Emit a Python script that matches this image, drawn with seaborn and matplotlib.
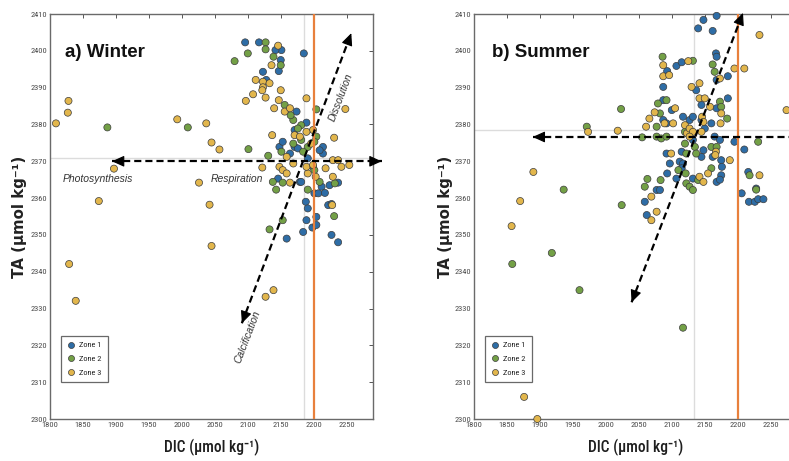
import numpy as np
import pandas as pd
import matplotlib
matplotlib.use("Agg")
import matplotlib.pyplot as plt
from matplotlib import font_manager as fm
import seaborn as sns

# ---- Winter observations (DIC, TA in µmol kg-1) ----
winter_z1_dic = [2096, 2117, 2151, 2142, 2185, 2150, 2123, 2147, 2128, 2174,
                 2189, 2171, 2171, 2176, 2148, 2153, 2164, 2214, 2214, 2209,
                 2179, 2191, 2199, 2237, 2212, 2224, 2201, 2207, 2188, 2191,
                 2222, 2189, 2204, 2159, 2184, 2198, 2227, 2237, 2146, 2181,
                 2217, 2227, 2204]
winter_z1_ta = [2402.3, 2402.3, 2400.2, 2400.2, 2399.3, 2397.5, 2394.3, 2394.5, 2392.1, 2383.5,
                2380.5, 2378.5, 2373.9, 2373.5, 2373.9, 2375.3, 2372.1, 2373.9, 2372.1, 2373.0,
                2364.4, 2370.8, 2368.5, 2364.2, 2363.1, 2363.5, 2361.3, 2361.3, 2359.0, 2357.2,
                2358.1, 2354.0, 2354.9, 2349.0, 2350.8, 2352.0, 2350.0, 2348.0, 2365.3, 2364.4,
                2361.4, 2358.4, 2352.7]

winter_z2_dic = [1887, 2009, 2101, 2080, 2100, 2127, 2127, 2139, 2150, 2156,
                 2169, 2165, 2204, 2181, 2176, 2204, 2201, 2191, 2181, 2169,
                 2184, 2151, 2131, 2153, 2138, 2143, 2201, 2232, 2209, 2191,
                 2231, 2153, 2133]
winter_z2_ta = [2379.2, 2379.2, 2373.3, 2397.2, 2399.3, 2402.3, 2400.4, 2398.4, 2396.1, 2385.3,
                2381.2, 2382.5, 2384.1, 2379.8, 2378.9, 2376.7, 2375.3, 2373.9, 2375.8, 2374.8,
                2372.6, 2372.6, 2371.5, 2364.2, 2364.4, 2362.3, 2367.6, 2364.0, 2364.4, 2362.3,
                2355.1, 2354.0, 2351.5]

winter_z3_dic = [1809, 1828, 1827, 1897, 1874, 1993, 2037, 2045, 2057, 2026,
                 2042, 1829, 1839, 2045, 2127, 2139, 2146, 2136, 2112, 2123,
                 2133, 2123, 2122, 2108, 2097, 2127, 2150, 2147, 2189, 2140,
                 2156, 2164, 2137, 2248, 2171, 2199, 2189, 2196, 2179, 2159,
                 2231, 2122, 2148, 2153, 2159, 2164, 2169, 2191, 2189, 2203,
                 2229, 2237, 2242, 2254, 2218, 2229, 2228, 2199]
winter_z3_ta = [2380.3, 2386.4, 2383.2, 2368.0, 2359.2, 2381.4, 2380.3, 2375.1, 2373.2, 2364.2,
                2358.2, 2342.1, 2332.1, 2347.0, 2333.2, 2335.0, 2401.4, 2396.1, 2392.1, 2391.6,
                2391.2, 2390.1, 2389.3, 2388.2, 2386.4, 2387.3, 2389.3, 2386.6, 2387.1, 2384.4,
                2383.5, 2384.4, 2377.1, 2384.2, 2377.1, 2378.5, 2378.0, 2374.8, 2376.7, 2371.2,
                2376.4, 2368.3, 2368.5, 2367.6, 2366.7, 2364.2, 2369.4, 2366.7, 2368.5, 2365.8,
                2370.3, 2370.3, 2368.5, 2369.0, 2368.1, 2365.8, 2358.1, 2369.0]

# ---- Summer observations ----
summer_z1_dic = [2168, 2148, 2140, 2162, 2167, 2168, 2107, 2115, 2093, 2087,
                 2168, 2185, 2137, 2185, 2145, 2168, 2087, 2100, 2087, 2092,
                 2117, 2127, 2132, 2145, 2160, 2150, 2165, 2173, 2195, 2210,
                 2092, 2097, 2112, 2117, 2145, 2148, 2132, 2115, 2115, 2093,
                 2107, 2162, 2175, 2176, 2175, 2168, 2173, 2132, 2206, 2216,
                 2217, 2226, 2231, 2239, 2228, 2059, 2077, 2082, 2062]
summer_z1_ta = [2409.5, 2408.4, 2406.1, 2405.4, 2399.3, 2398.4, 2395.9, 2396.9, 2394.5, 2390.2,
                2392.1, 2393.1, 2389.3, 2387.1, 2385.3, 2384.4, 2386.6, 2383.9, 2381.2, 2380.3,
                2382.1, 2381.2, 2382.1, 2381.2, 2380.3, 2378.9, 2376.7, 2375.8, 2375.3, 2373.2,
                2372.1, 2369.4, 2369.9, 2369.4, 2371.2, 2373.0, 2375.8, 2372.6, 2368.1, 2366.7,
                2365.3, 2371.2, 2370.3, 2368.5, 2366.2, 2364.4, 2365.0, 2365.3, 2361.3, 2367.1,
                2359.0, 2359.0, 2359.7, 2359.7, 2362.6, 2359.0, 2362.2, 2362.2, 2355.4]

summer_z2_dic = [2023, 1971, 1936, 2024, 2086, 2132, 2162, 2165, 2173, 2175,
                 2184, 2092, 2079, 2082, 2077, 2055, 2077, 2084, 2092, 2120,
                 2120, 2122, 2135, 2137, 2160, 2168, 2231, 2218, 2228, 2063,
                 2083, 2121, 2122, 2127, 2132, 2140, 2110, 2160, 1858, 1918,
                 1960, 2117, 2059]
summer_z2_ta = [2384.2, 2379.4, 2362.3, 2358.1, 2398.4, 2397.3, 2396.3, 2394.3, 2386.2, 2384.8,
                2381.6, 2386.6, 2385.7, 2383.0, 2379.4, 2376.5, 2376.7, 2376.2, 2376.7, 2378.0,
                2374.8, 2372.1, 2373.9, 2372.1, 2373.9, 2373.9, 2375.3, 2366.2, 2362.3, 2365.2,
                2364.9, 2366.7, 2364.0, 2363.1, 2362.2, 2364.9, 2367.6, 2368.1, 2342.1, 2345.1,
                2335.0, 2324.8, 2363.1]

summer_z3_dic = [2233, 2195, 2210, 2274, 2188, 2233, 1973, 2018, 1890, 1870,
                 1857, 2087, 2087, 2096, 2125, 2173, 2130, 2142, 2142, 2150,
                 2146, 2158, 2175, 2174, 2061, 2066, 2074, 2089, 2102, 2105,
                 2120, 2123, 2127, 2132, 2127, 2145, 2148, 2167, 2166, 2099,
                 2142, 2148, 2155, 2069, 2077, 2069, 1876, 1896]
summer_z3_ta = [2404.3, 2395.2, 2395.2, 2383.9, 2370.3, 2366.2, 2378.0, 2378.3, 2367.1, 2359.2,
                2352.4, 2396.1, 2393.1, 2393.4, 2397.2, 2392.5, 2390.2, 2391.2, 2387.1, 2387.1,
                2382.1, 2384.8, 2383.0, 2380.3, 2379.4, 2381.6, 2383.3, 2380.3, 2380.3, 2384.4,
                2379.8, 2377.6, 2378.9, 2378.0, 2376.7, 2378.0, 2380.7, 2372.6, 2371.7, 2372.1,
                2365.8, 2364.4, 2366.7, 2360.4, 2356.3, 2354.0, 2306.0, 2300.0]

zones = ["Zone 1", "Zone 2", "Zone 3"]
zone_colors = {"Zone 1": "#2e6da6", "Zone 2": "#73a046", "Zone 3": "#e2b64c"}

# season means (grey cross-hair) and reference DIC (orange line)
mean_dic = [2186, 2133]
mean_ta = [2371.0, 2378.5]
ref_dic = 2200

x_ticks = [1800, 1850, 1900, 1950, 2000, 2050, 2100, 2150, 2200, 2250]
y_ticks = list(range(2300, 2411, 10))

panel_titles = ["a) Winter", "b) Summer"]


def season_frame(d1, t1, d2, t2, d3, t3):
    parts = []
    for z, d, t in zip(zones, (d1, d2, d3), (t1, t2, t3)):
        parts.append(pd.DataFrame({"DIC": d, "TA": t, "Zone": z}))
    return pd.concat(parts, ignore_index=True)


winter = season_frame(winter_z1_dic, winter_z1_ta, winter_z2_dic, winter_z2_ta,
                      winter_z3_dic, winter_z3_ta)
summer = season_frame(summer_z1_dic, summer_z1_ta, summer_z2_dic, summer_z2_ta,
                      summer_z3_dic, summer_z3_ta)


def first_installed(names):
    for n in names:
        try:
            fm.findfont(fm.FontProperties(family=n), fallback_to_default=False)
            return n
        except ValueError:
            continue
    return None


narrow_name = first_installed(["Liberation Sans Narrow", "Roboto Condensed",
                               "Open Sans Condensed", "DejaVu Sans Condensed"])
if narrow_name:
    narrow = [narrow_name, "DejaVu Sans"]
    xlabel_size, tick_size, leg_size = 11.2, 6.0, 6.0
else:
    narrow = ["Liberation Sans", "DejaVu Sans"]
    xlabel_size, tick_size, leg_size = 10.5, 5.3, 5.3

sns.set_theme(style="white")
plt.rcParams["font.family"] = ["Liberation Sans", "DejaVu Sans"]

fig = plt.figure(figsize=(7.89, 4.61), dpi=100)
ax_w = fig.add_axes([0.0634, 0.0911, 0.4094, 0.8785])
ax_s = fig.add_axes([0.6008, 0.0911, 0.4094, 0.8785])


def dashed_arrow(ax, start, end, head_start=True, head_end=True):
    (x0, y0), (x1, y1) = start, end
    ax.plot([x0, x1], [y0, y1], color="black", lw=1.6,
            ls=(0, (3.2, 1.8)), clip_on=False, zorder=5)
    head = dict(arrowstyle="-|>,head_length=0.75,head_width=0.34", color="black",
                lw=0.8, shrinkA=0, shrinkB=0, mutation_scale=10)
    if head_end:
        ax.annotate("", xy=(x1, y1), xytext=(x1 - 0.03 * (x1 - x0), y1 - 0.03 * (y1 - y0)),
                    arrowprops=head, annotation_clip=False, zorder=6)
    if head_start:
        ax.annotate("", xy=(x0, y0), xytext=(x0 + 0.03 * (x1 - x0), y0 + 0.03 * (y1 - y0)),
                    arrowprops=head, annotation_clip=False, zorder=6)


for i, (ax, df) in enumerate(zip((ax_w, ax_s), (winter, summer))):
    ax.axvline(mean_dic[i], color="#dcdcdc", lw=1.0, zorder=1)
    ax.axhline(mean_ta[i], color="#dcdcdc", lw=1.0, zorder=1)
    ax.axvline(ref_dic, color="#e8803c", lw=1.6, zorder=4)

    sns.scatterplot(data=df, x="DIC", y="TA", hue="Zone", hue_order=zones,
                    palette=zone_colors, s=26, edgecolor="#3c3c3c", linewidth=0.5,
                    ax=ax, zorder=3, clip_on=False)

    ax.set_xlim(1800, 2290)
    ax.set_ylim(2300, 2410)
    ax.set_xticks(x_ticks)
    ax.set_yticks(y_ticks)
    ax.tick_params(direction="in", length=3, width=0.7, color="#555555",
                   top=True, right=True, labelsize=tick_size, labelcolor="#4a4a4a", pad=2)
    for lab in ax.get_xticklabels() + ax.get_yticklabels():
        lab.set_family(narrow)
    for sp in ax.spines.values():
        sp.set_color("#6a6a6a")
        sp.set_linewidth(1.0)

    ax.set_xlabel("DIC (µmol kg⁻¹)", fontsize=xlabel_size, family=narrow, color="#1e1e1e",
                  fontweight="medium")
    ax.set_ylabel("TA (µmol kg⁻¹)", fontsize=10.8, fontweight="bold", color="#222222",
                  family=["DejaVu Sans"])
    ax.xaxis.set_label_coords(0.5, -0.05)
    ax.yaxis.set_label_coords(-0.07 if i == 0 else -0.066, 0.5)

    ax.text(0.046 if i == 0 else 0.056, 0.906, panel_titles[i], transform=ax.transAxes,
            fontsize=13.5, fontweight="bold", va="center", ha="left", color="#111111")

    handles, labels = ax.get_legend_handles_labels()
    leg = ax.legend(handles, labels, loc="lower left", bbox_to_anchor=(0.034, 0.091),
                    borderaxespad=0, frameon=True, fancybox=False,
                    handletextpad=0.5, borderpad=0.7, labelspacing=0.85,
                    handlelength=1.0, markerscale=0.85,
                    prop={"family": narrow, "size": leg_size})
    leg.get_frame().set_edgecolor("#444444")
    leg.get_frame().set_linewidth(0.9)

# process arrows, winter
dashed_arrow(ax_w, (1894, 2370.0), (2303, 2370.0))
dashed_arrow(ax_w, (2091, 2326.0), (2257, 2404.8))
ax_w.text(1873, 2365.3, "Photosynthesis", fontsize=7.5, style="italic", color="#333333",
          ha="center", va="center")
ax_w.text(2083, 2365.3, "Respiration", fontsize=7.5, style="italic", color="#333333",
          ha="center", va="center")
ax_w.text(2242, 2387.5, "Dissolution", fontsize=7.5, style="italic", color="#333333",
          ha="center", va="center", rotation=69)
ax_w.text(2100, 2322.3, "Calcification", fontsize=7.5, style="italic", color="#333333",
          ha="center", va="center", rotation=69)

# process arrows, summer
dashed_arrow(ax_s, (1889, 2376.6), (2320, 2376.6), head_start=True, head_end=False)
dashed_arrow(ax_s, (2039, 2331.7), (2208, 2410.3))

fig.savefig("out.png", dpi=100)
